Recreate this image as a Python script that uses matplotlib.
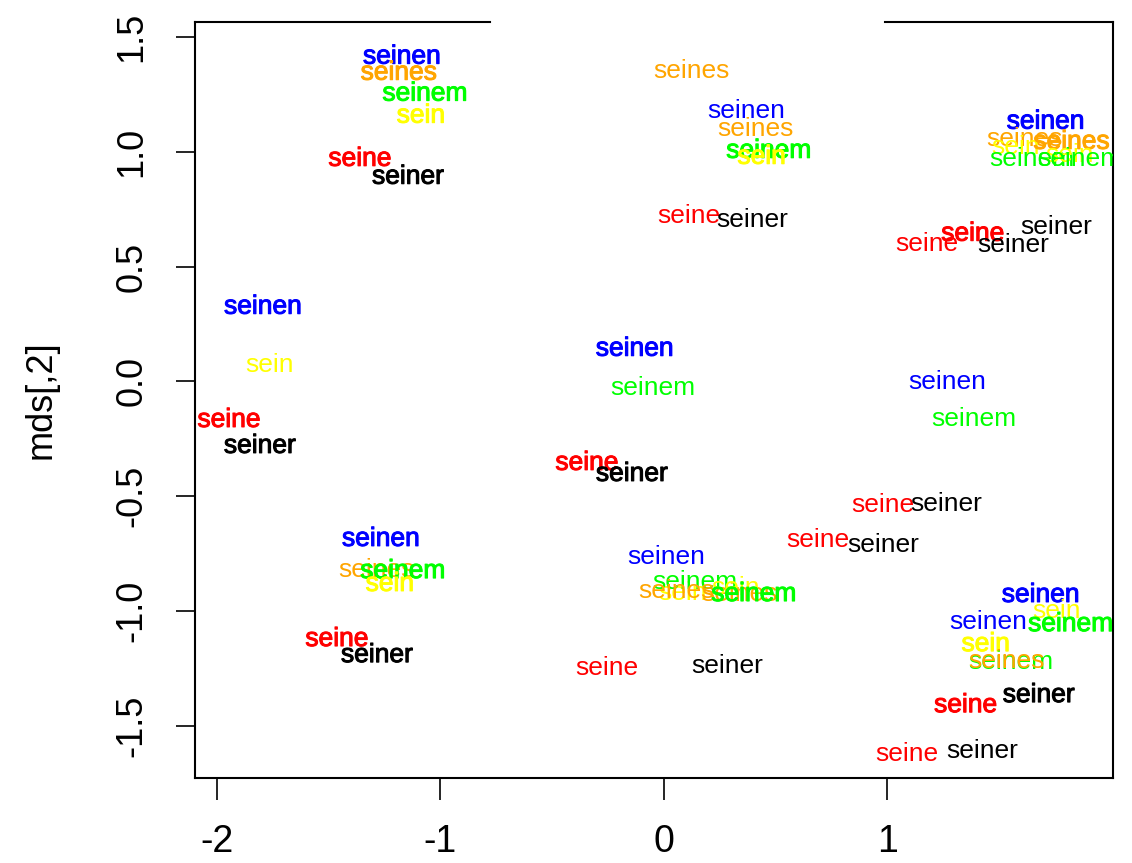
import matplotlib
matplotlib.use("Agg")
import matplotlib.pyplot as plt
import matplotlib.patheffects as pe
import matplotlib.transforms as mtrans

plt.rcParams['font.family'] = ['Liberation Sans', 'DejaVu Sans']

# word labels placed at their MDS coordinates (drawn in this order)
words = ['seinen', 'seines', 'seinem', 'sein', 'seine', 'seiner',
         'seines', 'seinen', 'seines', 'seinem', 'sein', 'seine', 'seiner',
         'seinen', 'seines', 'sein', 'seinem', 'seines', 'sein', 'seinem',
         'seine', 'seine', 'seiner', 'seiner',
         'seinen', 'sein', 'seine', 'seiner',
         'seinen', 'seinem', 'seine', 'seiner',
         'seinen', 'seinem', 'seine', 'seiner', 'seine', 'seiner',
         'seinen', 'seines', 'seinem', 'sein', 'seine', 'seiner',
         'seinen', 'sein', 'seinem', 'seines', 'seines', 'sein', 'seinem',
         'seine', 'seiner',
         'seinen', 'sein', 'seinen', 'seinem', 'sein', 'seinem', 'seines',
         'seiner', 'seine', 'seine', 'seiner']
colors = ['blue', 'orange', 'lime', 'yellow', 'red', 'black',
          'orange', 'blue', 'orange', 'lime', 'yellow', 'red', 'black',
          'blue', 'orange', 'yellow', 'lime', 'orange', 'yellow', 'lime',
          'red', 'red', 'black', 'black',
          'blue', 'yellow', 'red', 'black',
          'blue', 'lime', 'red', 'black',
          'blue', 'lime', 'red', 'black', 'red', 'black',
          'blue', 'orange', 'lime', 'yellow', 'red', 'black',
          'blue', 'yellow', 'lime', 'orange', 'orange', 'yellow', 'lime',
          'red', 'black',
          'blue', 'yellow', 'blue', 'lime', 'yellow', 'lime', 'orange',
          'black', 'red', 'red', 'black']
mds1 = [-1.172, -1.186, -1.069, -1.087, -1.360, -1.145,
        0.125, 0.367, 0.412, 0.470, 0.438, 0.112, 0.398,
        1.709, 1.615, 1.575, 1.647, 1.825, 1.817, 1.861,
        1.177, 1.383, 1.758, 1.562,
        -1.794, -1.763, -1.946, -1.808,
        -0.130, -0.049, -0.344, -0.143,
        1.270, 1.387, 0.979, 1.266, 0.689, 0.984,
        -1.266, -1.284, -1.168, -1.226, -1.463, -1.284,
        0.013, 0.085, 0.139, 0.058, 0.340, 0.320, 0.403,
        -0.255, 0.286,
        1.687, 1.758, 1.454, 1.821, 1.441, 1.553, 1.535,
        1.678, 1.351, 1.087, 1.427]
mds2 = [1.425, 1.355, 1.264, 1.168, 0.980, 0.902,
        1.364, 1.190, 1.111, 1.015, 0.989, 0.732, 0.715,
        1.142, 1.068, 1.033, 0.980, 1.054, 0.998, 0.980,
        0.610, 0.654, 0.684, 0.606,
        0.336, 0.083, -0.157, -0.270,
        0.153, -0.017, -0.344, -0.392,
        0.009, -0.152, -0.527, -0.523, -0.680, -0.702,
        -0.675, -0.810, -0.815, -0.871, -1.111, -1.181,
        -0.754, -0.912, -0.863, -0.902, -0.915, -0.890, -0.915,
        -1.237, -1.229,
        -0.919, -0.989, -1.037, -1.046, -1.133, -1.211, -1.207,
        -1.355, -1.399, -1.612, -1.599]
# labels that look over-printed (heavier)
heavy = [1, 1, 1, 1, 1, 1,
         0, 0, 0, 1, 1, 0, 0,
         1, 0, 0, 0, 1, 0, 0,
         0, 1, 0, 0,
         1, 0, 1, 1,
         1, 0, 1, 1,
         0, 0, 0, 0, 0, 0,
         1, 0, 1, 1, 1, 1,
         0, 0, 0, 0, 0, 0, 1,
         0, 0,
         1, 0, 0, 1, 1, 0, 0,
         1, 1, 0, 0]

fig = plt.figure(figsize=(11.32, 8.63), dpi=100)
ax = fig.add_axes([0.1723, 0.0985, 0.811, 0.876])
ax.set_xlim(-2.098, 2.011)
ax.set_ylim(-1.727, 1.565)

# R centres text a little lower than matplotlib does
tr = mtrans.offset_copy(ax.transData, fig=fig, y=-2.5, units='dots')
for w, c, x, y, h in zip(words, colors, mds1, mds2, heavy):
    t = ax.text(x, y, w, color=c, fontsize=19, ha='center', va='center',
                transform=tr, clip_on=True)
    if h:
        t.set_path_effects([pe.Stroke(linewidth=0.75, foreground=c), pe.Normal()])

ax.set_xticks([-2, -1, 0, 1])
ax.set_xticklabels(['-2', '-1', '0', '1'])
ax.set_yticks([-1.5, -1.0, -0.5, 0.0, 0.5, 1.0, 1.5])
ax.set_yticklabels(['-1.5', '-1.0', '-0.5', '0.0', '0.5', '1.0', '1.5'],
                   rotation=90, va='center')
ax.tick_params(axis='x', length=16, width=1.2, labelsize=27, pad=17)
ax.tick_params(axis='y', length=14, width=1.2, labelsize=26, pad=19)
ax.set_ylabel('mds[,2]', fontsize=26, labelpad=40)

for s in ['left', 'right', 'bottom']:
    ax.spines[s].set_linewidth(1.5)
ax.spines['top'].set_visible(False)
ax.plot([0, 0.321], [1, 1], color='black', lw=1.5, transform=ax.transAxes, clip_on=False)
ax.plot([0.752, 1], [1, 1], color='black', lw=1.5, transform=ax.transAxes, clip_on=False)

fig.savefig('out.png', dpi=100)
